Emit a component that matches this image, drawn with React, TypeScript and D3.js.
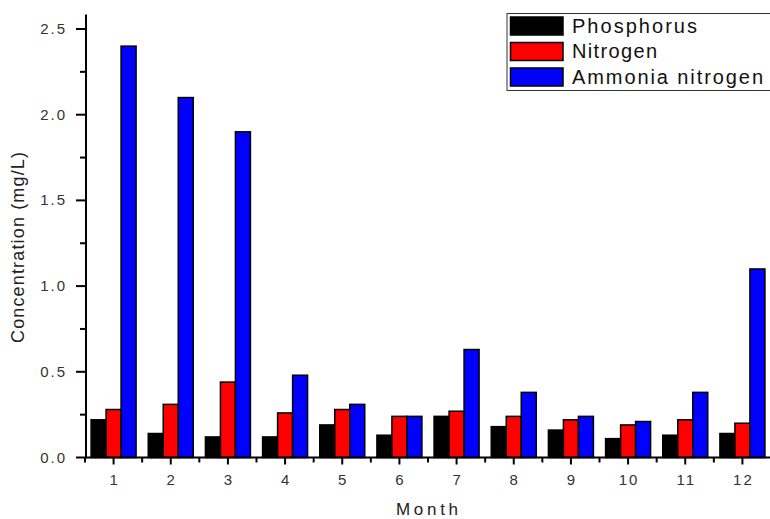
import React from "react";
import * as d3 from "d3";

// Monthly concentrations (mg/L)
const months = ["1", "2", "3", "4", "5", "6", "7", "8", "9", "10", "11", "12"];
const phosphorus = [0.22, 0.14, 0.12, 0.12, 0.19, 0.13, 0.24, 0.18, 0.16, 0.11, 0.13, 0.14];
const nitrogen = [0.28, 0.31, 0.44, 0.26, 0.28, 0.24, 0.27, 0.24, 0.22, 0.19, 0.22, 0.2];
const ammoniaNitrogen = [2.4, 2.1, 1.9, 0.48, 0.31, 0.24, 0.63, 0.38, 0.24, 0.21, 0.38, 1.1];
const seriesNames = ["Phosphorus", "Nitrogen", "Ammonia nitrogen"];
const seriesColors = ["#000000", "#ff0000", "#0000ff"];
const yTicks = [0, 0.5, 1.0, 1.5, 2.0, 2.5];
const yMinorTicks = [0.25, 0.75, 1.25, 1.75, 2.25];

const W = 770;
const H = 519;
const FONT = "'Liberation Sans', Arial, sans-serif";

export default function App() {
  const series = [phosphorus, nitrogen, ammoniaNitrogen];
  const x0 = d3.scaleBand<string>().domain(months).range([85, 771]).paddingInner(0.213).paddingOuter(0.1065);
  const x1 = d3.scaleBand<number>().domain([0, 1, 2]).range([0, x0.bandwidth()]).padding(0);
  const y = d3.scaleLinear().domain([0, 2.5]).range([457.5, 29]);
  const step = x0.step();
  const axisLeft = 86;
  const axisTop = y(2.584);
  const axisY = y(0);

  const legendTextLen = [125, 85, 191];

  return (
    <svg width={W} height={H} style={{ position: "absolute", left: 0, top: 0, background: "#fff" }} fontFamily={FONT}>
      <rect x={0} y={0} width={W} height={H} fill="#fff" />
      {/* bars */}
      {months.map((m, i) => (
        <g key={m} transform={`translate(${x0(m)},0)`}>
          {series.map((s, k) => (
            <rect
              key={k}
              x={x1(k)!}
              y={y(s[i])}
              width={x1.bandwidth()}
              height={y(0) - y(s[i])}
              fill={seriesColors[k]}
              stroke="#000"
              strokeWidth={1.5}
            />
          ))}
        </g>
      ))}

      {/* y axis */}
      <line x1={axisLeft} x2={axisLeft} y1={axisTop} y2={axisY + 1} stroke="#000" strokeWidth={2} />
      {yTicks.map((t) => (
        <g key={t}>
          <line x1={76} x2={axisLeft} y1={y(t)} y2={y(t)} stroke="#000" strokeWidth={2} />
          <text x={67} y={y(t) + 5} textAnchor="end" fontSize={15} fill="#333" letterSpacing={2}>
            {t.toFixed(1)}
          </text>
        </g>
      ))}
      {yMinorTicks.map((t) => (
        <line key={t} x1={80} x2={axisLeft} y1={y(t)} y2={y(t)} stroke="#000" strokeWidth={2} />
      ))}

      {/* x axis */}
      <line x1={85} x2={W} y1={axisY} y2={axisY} stroke="#000" strokeWidth={2} />
      {months.map((m, i) => {
        const cx = x0(m)! + x0.bandwidth() / 2;
        const bx = 85 + i * step;
        return (
          <g key={m}>
            <line x1={cx} x2={cx} y1={axisY} y2={axisY + 7} stroke="#000" strokeWidth={2} />
            <line x1={bx} x2={bx} y1={axisY} y2={axisY + 5} stroke="#000" strokeWidth={2} />
            <text x={cx + 1} y={485} textAnchor="middle" fontSize={15} fill="#333" letterSpacing={2}>
              {m}
            </text>
          </g>
        );
      })}

      {/* axis titles */}
      <text
        transform="translate(24,247.5) rotate(-90)"
        textAnchor="middle"
        fontSize={18}
        fill="#222"
        textLength={191}
        lengthAdjust="spacing"
      >
        Concentration (mg/L)
      </text>
      <text x={427} y={515} textAnchor="middle" fontSize={17} fill="#222" textLength={62} lengthAdjust="spacing">
        Month
      </text>

      {/* legend */}
      <rect x={507} y={13.5} width={270} height={77} fill="#fff" stroke="#333" strokeWidth={1} />
      {seriesNames.map((name, k) => (
        <g key={name}>
          <rect x={510.5} y={17 + k * 25.5} width={52.5} height={18} fill={seriesColors[k]} stroke="#000" strokeWidth={1.5} />
          <text
            x={572}
            y={33 + k * 25.3}
            fontSize={20}
            fill="#111"
            textLength={legendTextLen[k]}
            lengthAdjust="spacing"
          >
            {name}
          </text>
        </g>
      ))}
    </svg>
  );
}
